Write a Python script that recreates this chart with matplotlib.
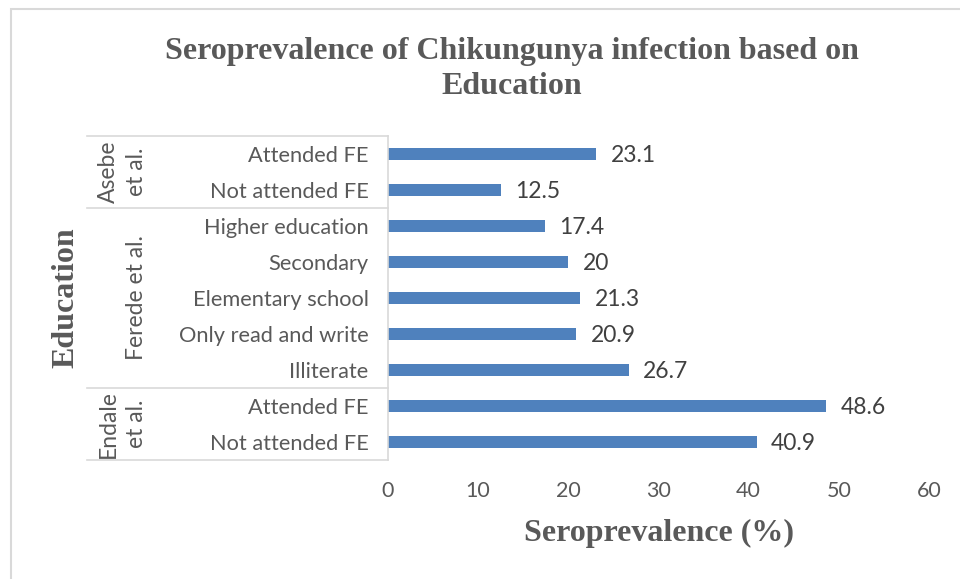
import matplotlib.pyplot as plt
from matplotlib.patches import Rectangle
from matplotlib.lines import Line2D

categories = ['Not attended FE', 'Attended FE', 'Illiterate', 'Only read and write',
              'Elementary school', 'Secondary', 'Higher education',
              'Not attended FE', 'Attended FE']
values = [40.9, 48.6, 26.7, 20.9, 21.3, 20, 17.4, 12.5, 23.1]
value_labels = ['40.9', '48.6', '26.7', '20.9', '21.3', '20', '17.4', '12.5', '23.1']
groups = ['Endale\net al.', 'Ferede et al.', 'Asebe\net al.']
group_sizes = [2, 5, 2]
xticks = [0, 10, 20, 30, 40, 50, 60]

W, H = 960, 579
grey = '#595959'
blue = '#4F81BD'

fig = plt.figure(figsize=(W / 100, H / 100), dpi=100)

# outer chart border (partially cut off at right/bottom)
fig.patches.append(Rectangle((11 / W, -0.1), 1.2, 1 - 9 / H + 0.1, transform=fig.transFigure,
                             fill=False, edgecolor='#d9d9d9', linewidth=1.5))

left, right, top, bottom = 388, 929, 136, 460
ax = fig.add_axes([left / W, 1 - bottom / H, (right - left) / W, (bottom - top) / H])

ypos = list(range(len(values)))
ax.barh(ypos, values, height=0.36, color=blue)
for y, v, lab in zip(ypos, values, value_labels):
    ax.text(v + 1.6, y, lab, va='center_baseline', ha='left', fontsize=16.5,
            family='Lato', color='#404040')

ax.set_xlim(0, 60)
ax.set_ylim(-0.5, len(values) - 0.5)
ax.set_xticks(xticks)
ax.set_xticklabels([str(t) for t in xticks], family='Lato', fontsize=15.5, color=grey)
ax.tick_params(axis='x', length=0, pad=15)
ax.set_yticks(ypos)
ax.set_yticklabels(categories, family='Lato', fontsize=15.7, color=grey)
ax.tick_params(axis='y', length=0, pad=14)
for s in ['top', 'right', 'bottom']:
    ax.spines[s].set_visible(False)
ax.spines['left'].set_color('#d9d9d9')
ax.spines['left'].set_linewidth(1.2)

# group separators and labels
row_h = (bottom - top) / len(values)
start = 0
bounds = [0]
for n in group_sizes:
    start += n
    bounds.append(start)
for b in bounds:
    ypix = bottom - b * row_h
    fig.add_artist(Line2D([87 / W, left / W], [1 - ypix / H, 1 - ypix / H],
                          transform=fig.transFigure, color='#d9d9d9', linewidth=1.2))
for g, b0, b1 in zip(groups, bounds[:-1], bounds[1:]):
    ymid = bottom - (b0 + b1) / 2 * row_h
    fig.text(147 / W, 1 - ymid / H, g, rotation=90, ha='right', va='center',
             multialignment='center', family='Lato', fontsize=16.5, color=grey,
             linespacing=1.4)

fig.text(512 / W, 1 - 69 / H, 'Seroprevalence of Chikungunya infection based on\nEducation',
         ha='center', va='center', family='Liberation Serif', fontweight='bold',
         fontsize=23, color=grey, linespacing=1.25)
fig.text(659 / W, 1 - 533 / H, 'Seroprevalence (%)', ha='center', va='center',
         family='Liberation Serif', fontweight='bold', fontsize=23, color=grey)
fig.text(66 / W, 1 - 298 / H, 'Education', rotation=90, ha='center', va='center',
         family='Liberation Serif', fontweight='bold', fontsize=23, color=grey)

fig.savefig('out.png', dpi=100)
